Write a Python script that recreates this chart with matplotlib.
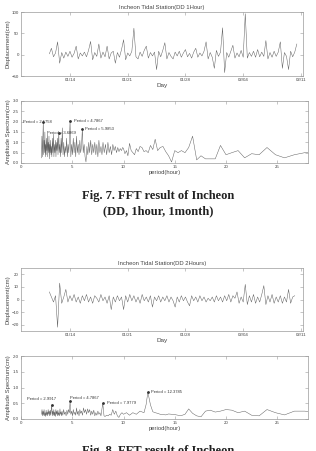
import numpy as np
import pandas as pd
import matplotlib
matplotlib.use("Agg")
import matplotlib.pyplot as plt
import matplotlib.dates as mdates

# ---- datos ----
# desplazamiento cada 6 h (cm), DD 1 hora
disp_1h = [2, 15, -5, 4, 30, -20, 5, -8, 6, -4, 8, -6, 3, 20, -10, 4, -3, 6, -5, 10,
           31, -12, 5, -4, 25, -8, 6, -5, 20, -10, 4, 8, -20, 5, -6, 12, 35, -12, 4, -3,
           8, 62, -5, -10, 6, -4, 10, 20, -8, 5, -3, 6, -35, 8, -5, 10, 28, -10, 5, -4,
           -10, 6, -3, 8, -6, 4, 12, -5, 3, -8, 6, 15, -6, 4, -3, 8, 30, -10, 5, -6,
           -32, 10, -4, 6, 63, -42, 5, -6, 8, 22, -8, 4, -5, 10, -6, 96, -8, 5, -4, 8,
           -6, 12, -5, 6, -4, 33, -10, 5, -6, 8, -4, 6, 30, -32, 5, -4, -35, 8, -5, 6, 25]

# desplazamiento cada 6 h (cm), DD 2 horas
disp_2h = [6, 2, -2, 3, -22, 13, -3, 2, 8, -2, 3, -1, 4, -2, 2, -3, 3, -1, 4, -2,
           2, -3, 3, 1, -2, 4, -1, 2, -3, 3, -8, 2, -2, 3, -1, 2, -8, 3, -2, 4,
           -1, 3, -2, 2, -3, 4, -1, 2, -2, 3, -6, 2, -1, 3, -2, 2, -1, 3, -2, 2,
           -1, -6, 2, -2, 3, -1, 2, -2, -5, 3, -1, 2, -2, 3, -1, 2, -2, 1, -1, 2,
           -2, 3, -1, 2, -2, 3, -1, 4, -2, 3, 1, 6, -3, 2, -2, 12, -4, 3, -2, 4,
           -3, 2, -2, 4, 11, -4, 3, -2, 4, -3, 2, -2, 3, -3, 2, -2, 8, -3, 2, 3]

t_start = "2014-01-11 12:00"
day_ticks = ["2014-01-14", "2014-01-21", "2014-01-28", "2014-02-04", "2014-02-11"]

# espectro DD 1 hora
period_1h = [2.00, 2.04, 2.08, 2.12, 2.1758, 2.21, 2.25, 2.29, 2.33, 2.37, 2.41, 2.45, 2.49, 2.53,
             2.57, 2.61, 2.65, 2.69, 2.73, 2.77, 2.81, 2.85, 2.89, 2.93, 2.97, 3.01, 3.06, 3.11,
             3.16, 3.21, 3.26, 3.31, 3.36, 3.41, 3.46, 3.51, 3.56, 3.61, 3.6869, 3.73, 3.79, 3.85,
             3.91, 3.97, 4.03, 4.10, 4.17, 4.24, 4.31, 4.38, 4.45, 4.52, 4.59, 4.66, 4.72, 4.7867,
             4.86, 4.94, 5.02, 5.10, 5.18, 5.26, 5.34, 5.42, 5.50, 5.58, 5.66, 5.74, 5.82, 5.90,
             5.9853, 6.07, 6.16, 6.25, 6.34, 6.43, 6.52, 6.61, 6.70, 6.80, 6.90, 7.00, 7.10, 7.20,
             7.30, 7.40, 7.50, 7.60, 7.70, 7.80, 7.90, 8.00, 8.12, 8.24, 8.36, 8.48, 8.60, 8.72,
             8.84, 8.96, 9.08, 9.20, 9.32, 9.44, 9.56, 9.68, 9.80, 9.92,
             10.0, 10.14, 10.29, 10.43, 10.59, 10.75, 10.91, 11.08, 11.25, 11.43, 11.61, 11.8,
             12.0, 12.2, 12.41, 12.63, 12.86, 13.09, 13.33, 13.58, 13.85, 14.12, 14.4, 14.69,
             15.0, 15.32, 15.65, 16.0, 16.36, 16.74, 17.14, 17.56, 18.0, 18.46, 18.95, 19.46,
             20.0, 20.57, 21.18, 21.82, 22.5, 23.23, 24.0, 24.83, 25.71, 26.67, 27.69, 28.8]
amp_1h = [0.25, 1.3, 0.3, 1.0, 2.0, 0.4, 1.1, 0.5, 1.5, 0.3, 0.9, 0.4, 1.2, 0.6,
          1.4, 0.3, 1.0, 0.5, 1.3, 0.2, 0.9, 0.5, 1.1, 0.4, 0.8, 0.3, 1.2, 0.5,
          1.4, 0.3, 0.9, 0.5, 1.1, 0.3, 1.0, 0.6, 1.2, 0.4, 1.47, 0.5, 0.9, 0.3,
          1.2, 0.5, 1.7, 0.4, 1.0, 0.3, 0.8, 0.5, 1.2, 0.3, 0.9, 0.5, 1.1, 2.05,
          0.3, 0.9, 0.4, 1.2, 0.5, 1.0, 0.3, 1.3, 0.5, 0.9, 0.4, 1.1, 0.5, 0.8,
          1.66, 0.5, 0.9, 0.3, 0.05, 0.8, 0.4, 1.0, 0.5, 1.1, 0.4, 0.9, 0.5, 1.0,
          0.4, 0.9, 0.3, 1.1, 0.5, 0.8, 0.4, 1.0, 0.5, 0.9, 0.4, 1.0, 0.5, 0.8,
          0.4, 0.9, 0.6, 0.8, 0.5, 0.75, 0.55, 0.7, 0.6, 0.75,
          0.7, 0.45, 0.6, 0.35, 0.95, 0.6, 0.5, 0.4, 0.7, 0.55, 0.8, 0.75,
          0.55, 0.6, 0.5, 0.85, 0.65, 1.15, 0.6, 0.75, 0.8, 0.55, 0.35, 0.05,
          0.6, 0.5, 0.6, 0.5, 0.75, 1.3, 0.15, 0.35, 0.2, 0.2, 0.2, 0.85,
          0.4, 0.5, 0.6, 0.25, 0.45, 0.4, 0.75, 0.4, 0.25, 0.4, 0.5, 0.55]

# espectro DD 2 horas
period_2h = [2.00, 2.05, 2.10, 2.15, 2.20, 2.25, 2.30, 2.35, 2.40, 2.45, 2.50, 2.55, 2.60, 2.65,
             2.70, 2.75, 2.80, 2.85, 2.90, 2.9917, 3.05, 3.10, 3.15, 3.20, 3.25, 3.30, 3.35, 3.40,
             3.45, 3.50, 3.55, 3.60, 3.65, 3.70, 3.75, 3.80, 3.85, 3.90, 3.95, 4.00, 4.08, 4.16,
             4.24, 4.32, 4.40, 4.48, 4.56, 4.64, 4.72, 4.7867, 4.86, 4.94, 5.02, 5.10, 5.18, 5.26,
             5.34, 5.42, 5.50, 5.58, 5.66, 5.74, 5.82, 5.90, 6.00, 6.10, 6.20, 6.30, 6.40, 6.50,
             6.60, 6.70, 6.80, 6.90, 7.00, 7.10, 7.20, 7.30, 7.40, 7.50, 7.60, 7.70, 7.80, 7.9779,
             8.10, 8.20, 8.35, 8.50, 8.65, 8.80, 8.95, 9.10, 9.25, 9.40, 9.55, 9.70, 9.85,
             10.0, 10.29, 10.59, 10.91, 11.25, 11.61, 12.0, 12.2, 12.3785, 12.63, 12.86, 13.09,
             13.33, 13.58, 13.85, 14.12, 14.4, 14.69, 15.0, 15.32, 15.65, 16.0, 16.36, 16.74,
             17.14, 17.56, 18.0, 18.46, 18.95, 19.46, 20.0, 20.57, 21.18, 21.82, 22.5, 23.23,
             24.0, 24.83, 25.71, 26.67, 27.69, 28.8]
amp_2h = [0.15, 0.3, 0.1, 0.25, 0.12, 0.3, 0.1, 0.2, 0.08, 0.28, 0.12, 0.22, 0.1, 0.3,
          0.15, 0.25, 0.1, 0.28, 0.12, 0.45, 0.1, 0.25, 0.12, 0.3, 0.1, 0.22, 0.08, 0.3,
          0.15, 0.25, 0.1, 0.28, 0.12, 0.2, 0.1, 0.32, 0.15, 0.22, 0.1, 0.25, 0.12, 0.3,
          0.15, 0.22, 0.1, 0.28, 0.15, 0.3, 0.2, 0.57, 0.15, 0.25, 0.1, 0.3, 0.15, 0.22,
          0.12, 0.35, 0.15, 0.25, 0.1, 0.3, 0.18, 0.25, 0.12, 0.35, 0.2, 0.3, 0.15, 0.32,
          0.2, 0.3, 0.12, 0.25, 0.15, 0.28, 0.1, 0.2, 0.12, 0.25, 0.15, 0.2, 0.1, 0.5,
          0.1, 0.08, 0.12, 0.1, 0.15, 0.12, 0.3, 0.15, 0.25, 0.1, 0.05, 0.15, 0.2,
          0.15, 0.2, 0.12, 0.2, 0.15, 0.25, 0.2, 0.45, 0.85, 0.45, 0.23, 0.2,
          0.18, 0.15, 0.14, 0.13, 0.16, 0.15, 0.14, 0.12, 0.11, 0.15, 0.32, 0.18,
          0.1, 0.07, 0.25, 0.28, 0.22, 0.25, 0.3, 0.28, 0.2, 0.25, 0.12, 0.1,
          0.3, 0.2, 0.13, 0.25, 0.25, 0.2]

peaks_1h = [2.1758, 3.6869, 4.7867, 5.9853]
peaks_2h = [2.9917, 4.7867, 7.9779, 12.3785]
# posicion del texto de cada etiqueta (x, y en datos)
label_pos_1h = [(0.17, 2.0), (2.5, 1.47), (5.15, 2.05), (6.25, 1.66)]
label_pos_2h = [(0.55, 0.62), (4.75, 0.68), (8.35, 0.5), (12.65, 0.85)]

line_c = "#606060"
txt_c = "#444444"
fnt = "Liberation Sans"

fig = plt.figure(figsize=(3.16, 4.51), dpi=100)
W, H = 316.0, 451.0


def make_ax(l, t, r, b):
    ax = fig.add_axes([l / W, 1 - b / H, (r - l) / W, (b - t) / H])
    for s in ax.spines.values():
        s.set_color("#9a9a9a")
        s.set_linewidth(0.5)
    ax.tick_params(direction="in", length=2, width=0.4, colors="#9a9a9a",
                   labelcolor=txt_c, labelsize=3.2, pad=1.5, top=True, right=True)
    return ax


def serie(ax, vals, titulo, ylim, yticks):
    t = pd.date_range(t_start, periods=len(vals), freq="6h")
    ax.plot(t, vals, color=line_c, lw=0.35)
    ax.set_xlim(pd.Timestamp("2014-01-08 01:30"), pd.Timestamp("2014-02-11 06:00"))
    ax.set_ylim(*ylim)
    ax.set_yticks(yticks)
    ax.set_xticks(pd.to_datetime(day_ticks))
    ax.xaxis.set_major_formatter(mdates.DateFormatter("%m/%d"))
    ax.set_title(titulo, fontsize=4.2, color=txt_c, family=fnt, pad=2.5)
    ax.set_xlabel("Day", fontsize=4.6, color=txt_c, family=fnt, labelpad=1)
    ax.set_ylabel("Displacement(cm)", fontsize=4.3, color=txt_c, family=fnt, labelpad=1)
    for lab in ax.get_xticklabels() + ax.get_yticklabels():
        lab.set_family(fnt)


def espectro(ax, per, amp, peaks, pos, ylim, yticks):
    ax.plot(per, amp, color=line_c, lw=0.35)
    for p, (tx, ty) in zip(peaks, pos):
        ax.plot(p, amp[per.index(p)], "o", ms=1.0, color="#333333")
        ax.text(tx, ty, f"Period = {p}", fontsize=3.0, color="#333333",
                family=fnt, va="center")
    ax.set_xlim(0, 28)
    ax.set_ylim(*ylim)
    ax.set_xticks([0, 5, 10, 15, 20, 25])
    ax.set_yticks(yticks)
    ax.set_xlabel("period(hour)", fontsize=4.2, color=txt_c, family=fnt, labelpad=1)
    ax.set_ylabel("Amplitude Spectrum(cm)", fontsize=4.2, color=txt_c, family=fnt, labelpad=1)
    for lab in ax.get_xticklabels() + ax.get_yticklabels():
        lab.set_family(fnt)


ax1 = make_ax(21, 12, 303, 76)
serie(ax1, disp_1h, "Incheon Tidal Station(DD 1Hour)", (-50, 100), [-50, 0, 50, 100])

ax2 = make_ax(21, 101, 308, 163)
espectro(ax2, period_1h, amp_1h, peaks_1h, label_pos_1h, (0, 3),
         [0, 0.5, 1, 1.5, 2, 2.5, 3])

ax3 = make_ax(21, 268, 303, 331)
serie(ax3, disp_2h, "Incheon Tidal Station(DD 2Hours)", (-25, 25), [-20, -10, 0, 10, 20])

ax4 = make_ax(21, 356, 308, 419)
espectro(ax4, period_2h, amp_2h, peaks_2h, label_pos_2h, (0, 2),
         [0, 0.5, 1, 1.5, 2])

cap = dict(ha="center", va="center", family="Liberation Serif", weight="bold",
           fontsize=9, color="#222222")
fig.text(158 / W, 1 - 196 / H, "Fig. 7. FFT result of Incheon", **cap)
fig.text(158 / W, 1 - 211 / H, "(DD, 1hour, 1month)", **cap)
# en la figura original esta linea queda cortada por el borde inferior
fig.text(158 / W, 1 - 451 / H, "Fig. 8. FFT result of Incheon", **cap)

fig.savefig("out.png", dpi=100)
